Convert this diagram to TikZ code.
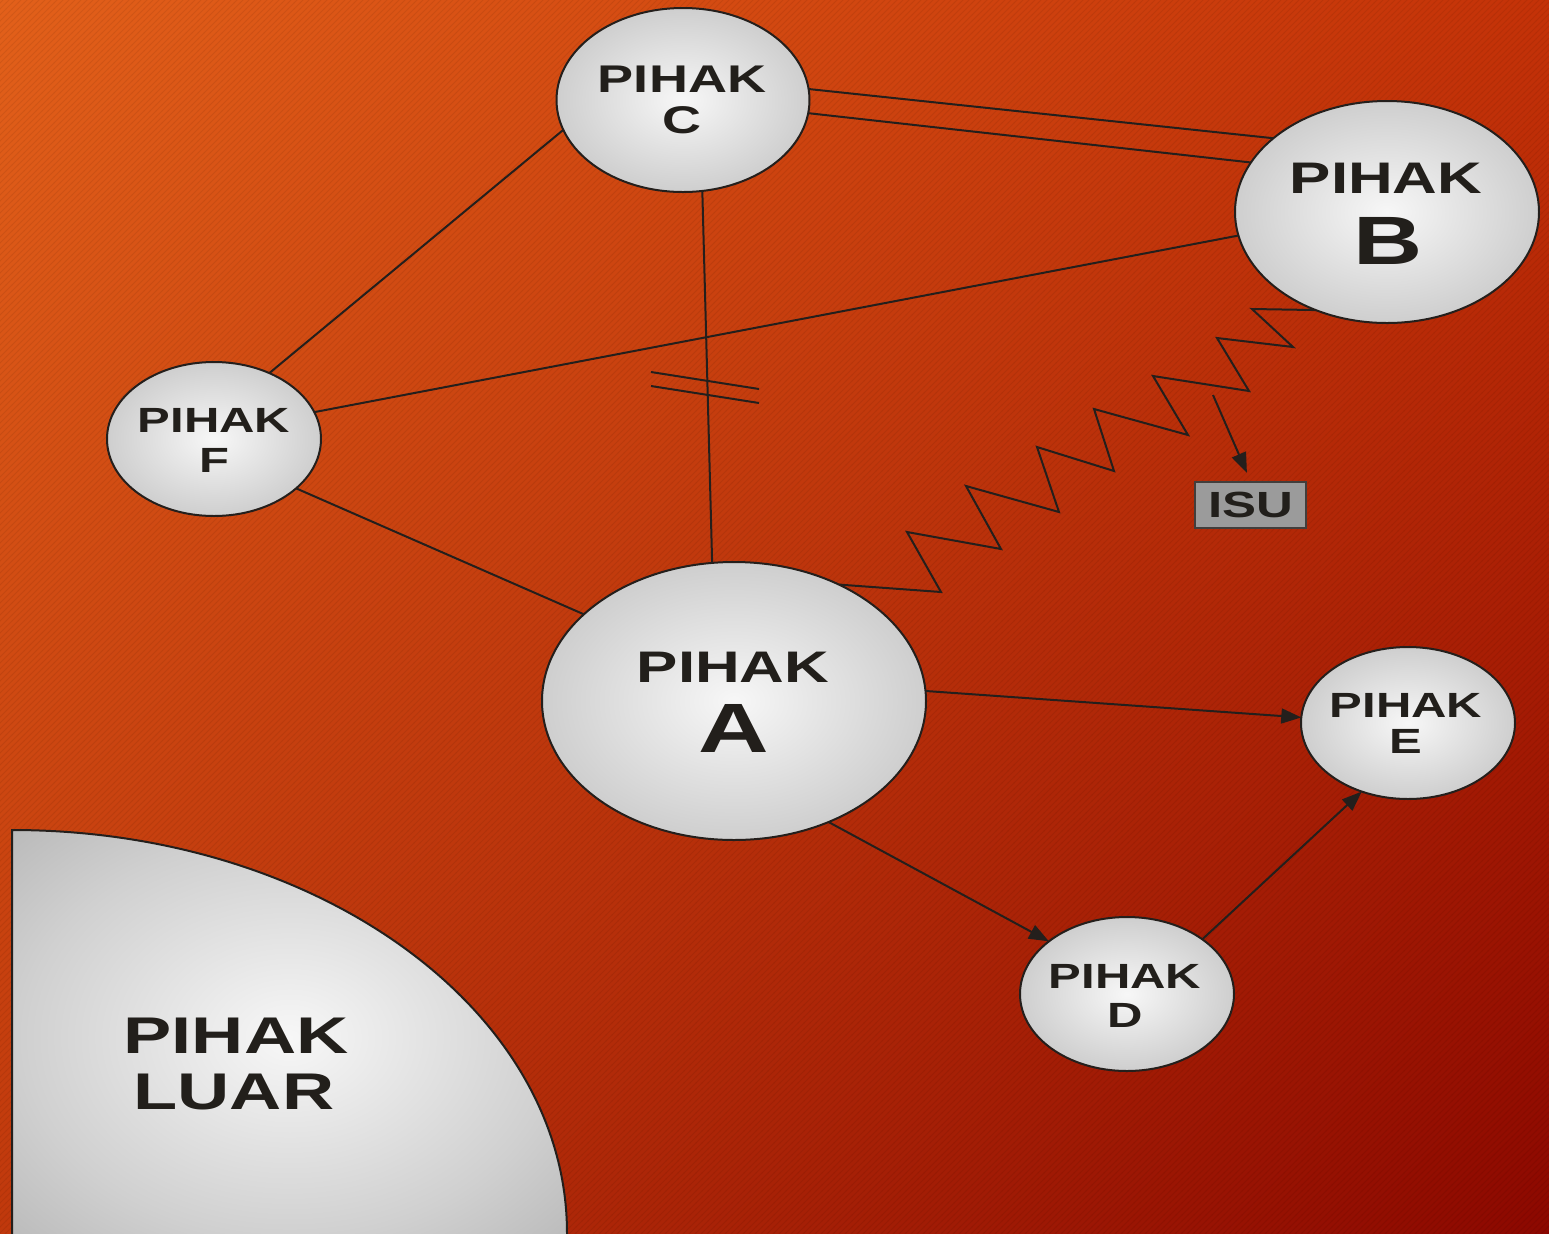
\documentclass[tikz,border=0pt]{standalone}
\usepackage{fontspec}
\setmainfont{Liberation Sans}
\newfontfamily\wfont{Liberation Sans}[FakeStretch=1.4]
\usetikzlibrary{arrows.meta,shapes.geometric,calc,shadings,patterns}
\definecolor{gcA}{RGB}{247,247,247}
\definecolor{gcB}{RGB}{208,208,208}
\definecolor{gcC}{RGB}{158,158,158}
\definecolor{gcD}{RGB}{140,140,140}
\definecolor{bgUL}{RGB}{226,96,26}
\definecolor{bgUR}{RGB}{196,50,8}
\definecolor{bgLL}{RGB}{192,56,12}
\definecolor{bgLR}{RGB}{140,8,0}
\definecolor{lc}{RGB}{36,31,28}
\definecolor{tc}{RGB}{34,31,27}
\definecolor{isufill}{RGB}{155,155,155}
\definecolor{isudraw}{RGB}{66,62,60}
\pgfdeclareradialshading{pgray}{\pgfpoint{0bp}{0bp}}{color(0bp)=(gcA); color(24bp)=(gcB); color(50bp)=(gcC); color(72bp)=(gcD)}
\newcommand\pihakfont[1]{\wfont\bfseries\fontsize{#1}{#1}\selectfont}
\tikzset{
  ell/.style={ellipse, draw=lc, line width=1pt, shading=pgray, inner sep=0pt, outer sep=0pt},
  txt/.style={text=tc, inner sep=0pt, anchor=base},
  conn/.style={draw=lc, line width=1pt},
  arr/.style={conn, -{Triangle[length=10pt,width=7.5pt]}},
}
\begin{document}
\begin{tikzpicture}[x=0.5pt,y=-0.5pt]
\useasboundingbox (0,0) rectangle (1549,1233);
\shade[upper left=bgUL, upper right=bgUR, lower left=bgLL, lower right=bgLR] (0,0) rectangle (1549,1233);
\fill[pattern=north east lines, pattern color=black, opacity=0.07] (0,0) rectangle (1549,1233);

% outside party (quarter ellipse)
\path[draw=lc, line width=1pt, shading=pgray] (12,1245) -- (12,830)
  arc[start angle=90, end angle=0, x radius=277.5pt, y radius=201.5pt] -- (567,1245) -- cycle;
\node[txt, font=\pihakfont{25.8}] (Lt1) at (236,1053) {PIHAK};
\node[txt, font=\pihakfont{25.8}] (Lt2) at (234,1109) {LUAR};

% parties
\node[ell, minimum width=126.5pt, minimum height=92pt] (C) at (683,100) {};
\node[ell, minimum width=152pt, minimum height=111pt] (B) at (1387,212) {};
\node[ell, minimum width=107pt, minimum height=77pt] (F) at (214,439) {};
\node[ell, minimum width=192pt, minimum height=139pt] (A) at (734,701) {};
\node[ell, minimum width=107pt, minimum height=76pt] (E) at (1408,723) {};
\node[ell, minimum width=107pt, minimum height=77pt] (D) at (1127,994) {};

\node[txt, font=\pihakfont{19.3}] (Ct1) at (682,92) {PIHAK};
\node[txt, font=\pihakfont{19.3}] (Ct2) at (682,133) {C};
\node[txt, font=\pihakfont{22.1}] (Bt1) at (1386,193) {PIHAK};
\node[txt, font=\pihakfont{34.2}] (Bt2) at (1388,264) {B};
\node[txt, font=\pihakfont{17.5}] (Ft1) at (214,432) {PIHAK};
\node[txt, font=\pihakfont{17.5}] (Ft2) at (214,472) {F};
\node[txt, font=\pihakfont{22.1}] (At1) at (733,682) {PIHAK};
\node[txt, font=\pihakfont{34.9}] (At2) at (734,752) {A};
\node[txt, font=\pihakfont{17.5}] (Et1) at (1406,717) {PIHAK};
\node[txt, font=\pihakfont{17.5}] (Et2) at (1406,753) {E};
\node[txt, font=\pihakfont{17.5}] (Dt1) at (1125,988) {PIHAK};
\node[txt, font=\pihakfont{17.5}] (Dt2) at (1125,1027) {D};

% issue box
\node[draw=isudraw, fill=isufill, line width=1pt, minimum width=55.5pt, minimum height=23pt, inner sep=0pt,
      text=tc, font=\pihakfont{18.2}] (ISU) at (1250.5,505) {ISU};

% connectors
\draw[conn] (C.5) -- (B.147.8);
\draw[conn] (C.354) -- (B.160.3);
\draw[conn] (C.194.4) -- (F.50.6);
\draw[conn] (C.282) -- (A.99.9);
\draw[conn] (F.15.5) -- (B.189);
\draw[conn] (F.329.5) -- (A.150.8);
\draw[conn] (651,372) -- (759,389);
\draw[conn] (651,386) -- (759,403);
\draw[conn] (A.48.8) -- (941,592) -- (907,532) -- (1001,549) -- (966,486) -- (1059,512)
  -- (1037,447) -- (1114,471) -- (1094,409) -- (1188,435) -- (1153,376) -- (1249,391)
  -- (1217,338) -- (1293,347) -- (1252,309) -- (B.234);
\coordinate (isutail) at (1213,395);
\draw[arr, shorten >=4.5pt] (isutail) -- (ISU.north);
\draw[arr] (A.3.6) -- (E.177.4);
\draw[arr] (A.308.6) -- (D.146);
\draw[arr] (D.36) -- (E.236.7);
\end{tikzpicture}
\end{document}
